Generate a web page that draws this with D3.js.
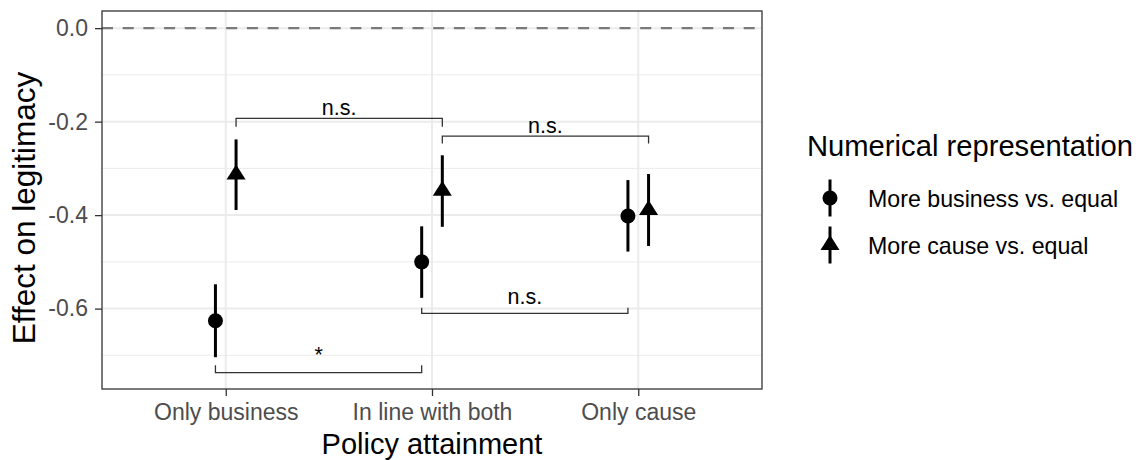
<!DOCTYPE html>
<html>
<head>
<meta charset="utf-8">
<script src="https://cdn.jsdelivr.net/npm/d3@7"></script>
<style>
   body { margin: 0; background: #fff; }
   text { font-family: 'Liberation Sans', Arial, sans-serif; }
</style>
</head>
<body>
<div class="chart"></div>
<script>
// ======================================
// Data
// ======================================
var categories = ['Only business', 'In line with both', 'Only cause'];
var seriesNames = ['More business vs. equal', 'More cause vs. equal'];

var businessEst = [-0.626, -0.500, -0.402];
var businessLow = [-0.704, -0.577, -0.478];
var businessHigh = [-0.548, -0.424, -0.325];

var causeEst = [-0.313, -0.348, -0.389];
var causeLow = [-0.389, -0.425, -0.466];
var causeHigh = [-0.238, -0.272, -0.312];

var yTicks = [0, -0.2, -0.4, -0.6];
var yMinorTicks = [-0.1, -0.3, -0.5, -0.7];

// comparison brackets
var bracketLabels = ['n.s.', 'n.s.', 'n.s.', '*'];
var bracketSeries = [1, 1, 0, 0];
var bracketStart = ['Only business', 'In line with both', 'In line with both', 'Only business'];
var bracketEnd = ['In line with both', 'Only cause', 'Only cause', 'In line with both'];
var bracketBar = [-0.193, -0.231, -0.610, -0.737];
var bracketTip = [-0.211, -0.247, -0.598, -0.721];

// ======================================
// Svg dimensions
// ======================================
var chart = {
   width: 1140,
   height: 460,
   left: 102,
   right: 762,
   top: 11,
   bottom: 389
};

var svg = d3.select('.chart')
   .append('svg')
   .attr('width', chart.width)
   .attr('height', chart.height)
   ;

svg.append('rect')
   .attr('width', chart.width)
   .attr('height', chart.height)
   .attr('fill', '#fff')
   ;

// ======================================
// Scales
// ======================================
var x = d3.scalePoint()
   .domain(categories)
   .range([chart.left, chart.right])
   .padding(0.6)
   ;

var dodge = x.step() * 0.05;

var y = d3.scaleLinear()
   .domain([0.0367, -0.772])
   .range([chart.top, chart.bottom])
   ;

// build rows for the points
var rows = [];
categories.forEach(function(c, i){
   rows.push({cat: c, s: 0, est: businessEst[i], lo: businessLow[i], hi: businessHigh[i]});
   rows.push({cat: c, s: 1, est: causeEst[i], lo: causeLow[i], hi: causeHigh[i]});
});

function xPos(cat, s){
   return x(cat) + (s === 0 ? -dodge : dodge);
}

// ======================================
// Grid lines
// ======================================
var grid = svg.append('g');

grid.selectAll('line.minor')
   .data(yMinorTicks)
   .enter()
   .append('line')
      .attr('x1', chart.left).attr('x2', chart.right)
      .attr('y1', function(d){return y(d);})
      .attr('y2', function(d){return y(d);})
      .attr('stroke', '#ebebeb')
      .attr('stroke-width', 1)
      ;

grid.selectAll('line.major')
   .data(yTicks)
   .enter()
   .append('line')
      .attr('x1', chart.left).attr('x2', chart.right)
      .attr('y1', function(d){return y(d);})
      .attr('y2', function(d){return y(d);})
      .attr('stroke', '#ebebeb')
      .attr('stroke-width', 2)
      ;

grid.selectAll('line.vert')
   .data(categories)
   .enter()
   .append('line')
      .attr('x1', function(d){return x(d);})
      .attr('x2', function(d){return x(d);})
      .attr('y1', chart.top).attr('y2', chart.bottom)
      .attr('stroke', '#ebebeb')
      .attr('stroke-width', 2)
      ;

// reference line at zero
svg.append('line')
   .attr('x1', chart.left).attr('x2', chart.right)
   .attr('y1', y(0)).attr('y2', y(0))
   .attr('stroke', '#7a7a7a')
   .attr('stroke-width', 2.2)
   .attr('stroke-dasharray', '11,9.7')
   ;

// ======================================
// Brackets
// ======================================
var brackets = svg.append('g');

bracketLabels.forEach(function(label, i){
   var x1 = xPos(bracketStart[i], bracketSeries[i]);
   var x2 = xPos(bracketEnd[i], bracketSeries[i]);
   var yb = y(bracketBar[i]);
   var yt = y(bracketTip[i]);
   brackets.append('path')
      .attr('d', 'M' + x1 + ',' + yt + 'V' + yb + 'H' + x2 + 'V' + yt)
      .attr('fill', 'none')
      .attr('stroke', '#333')
      .attr('stroke-width', 1.3)
      ;
   brackets.append('text')
      .text(label)
      .attr('x', (x1 + x2) / 2)
      .attr('y', Math.min(yb, yt) - 3.5)
      .attr('text-anchor', 'middle')
      .attr('font-size', '21.5px')
      .attr('fill', '#000')
      ;
});

// ======================================
// Error bars and points
// ======================================
var triangle = 'M0,-10L9.5,5L-9.5,5Z';

svg.selectAll('line.err')
   .data(rows)
   .enter()
   .append('line')
      .attr('x1', function(d){return xPos(d.cat, d.s);})
      .attr('x2', function(d){return xPos(d.cat, d.s);})
      .attr('y1', function(d){return y(d.lo);})
      .attr('y2', function(d){return y(d.hi);})
      .attr('stroke', '#000')
      .attr('stroke-width', 3)
      ;

svg.selectAll('circle.pt')
   .data(rows.filter(function(d){return d.s === 0;}))
   .enter()
   .append('circle')
      .attr('cx', function(d){return xPos(d.cat, d.s);})
      .attr('cy', function(d){return y(d.est);})
      .attr('r', 7.5)
      .attr('fill', '#000')
      ;

svg.selectAll('path.pt')
   .data(rows.filter(function(d){return d.s === 1;}))
   .enter()
   .append('path')
      .attr('d', triangle)
      .attr('transform', function(d){
         return 'translate(' + xPos(d.cat, d.s) + ',' + y(d.est) + ')';
      })
      .attr('fill', '#000')
      ;

// panel border
svg.append('rect')
   .attr('x', chart.left)
   .attr('y', chart.top)
   .attr('width', chart.right - chart.left)
   .attr('height', chart.bottom - chart.top)
   .attr('fill', 'none')
   .attr('stroke', '#333')
   .attr('stroke-width', 1.3)
   ;

// ======================================
// Axes
// ======================================
var yAxis = svg.append('g')
   .attr('transform', 'translate(' + chart.left + ',0)')
   .call(d3.axisLeft(y).tickValues(yTicks).tickSize(7).tickPadding(7)
      .tickFormat(d3.format('.1f')))
   ;

var xAxis = svg.append('g')
   .attr('transform', 'translate(0,' + chart.bottom + ')')
   .call(d3.axisBottom(x).tickSize(7).tickPadding(8))
   ;

[yAxis, xAxis].forEach(function(ax){
   ax.select('.domain').remove();
   ax.selectAll('.tick line').attr('stroke', '#333').attr('stroke-width', 1.3);
   ax.selectAll('.tick text')
      .attr('fill', '#4d4d4d')
      .attr('font-size', '23px')
      .attr('font-family', "'Liberation Sans', Arial, sans-serif")
      ;
});
yAxis.selectAll('.tick text').text(function(d){
   return d3.format('.1f')(d).replace('\u2212', '-');
});

svg.append('text')
   .text('Policy attainment')
   .attr('x', (chart.left + chart.right) / 2)
   .attr('y', 454)
   .attr('text-anchor', 'middle')
   .attr('font-size', '29px')
   .attr('fill', '#000')
   ;

svg.append('text')
   .text('Effect on legitimacy')
   .attr('transform', 'translate(35,208) rotate(-90)')
   .attr('text-anchor', 'middle')
   .attr('font-size', '31.5px')
   .attr('fill', '#000')
   ;

// ======================================
// Legend
// ======================================
var legend = svg.append('g');

legend.append('text')
   .text('Numerical representation')
   .attr('x', 807)
   .attr('y', 156)
   .attr('font-size', '29.2px')
   .attr('fill', '#000')
   ;

var keys = legend.selectAll('g.key')
   .data(seriesNames)
   .enter()
   .append('g')
      .attr('transform', function(d, i){return 'translate(830,' + (198 + i * 47) + ')';})
      ;

keys.append('line')
   .attr('y1', -18.5).attr('y2', 18.5)
   .attr('stroke', '#000')
   .attr('stroke-width', 3)
   ;

keys.filter(function(d, i){return i === 0;})
   .append('circle')
   .attr('r', 7.5)
   .attr('fill', '#000')
   ;

keys.filter(function(d, i){return i === 1;})
   .append('path')
   .attr('d', triangle)
   .attr('fill', '#000')
   ;

keys.append('text')
   .text(function(d){return d;})
   .attr('x', 38)
   .attr('y', 9)
   .attr('font-size', '23.2px')
   .attr('fill', '#000')
   ;
</script>
</body>
</html>
